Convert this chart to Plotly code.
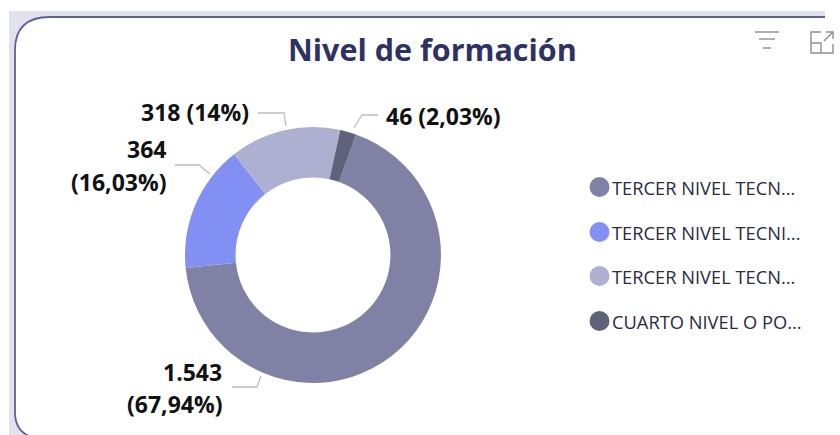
import plotly.graph_objects as go

W, H = 840, 435
title = "Nivel de formación"
categories = ["TERCER NIVEL TECNOLOGICO", "TERCER NIVEL TECNICO", "TERCER NIVEL TECNICO SUPERIOR", "CUARTO NIVEL O POSGRADO"]
legend_labels = ["TERCER NIVEL TECN...", "TERCER NIVEL TECNI...", "TERCER NIVEL TECN...", "CUARTO NIVEL O PO..."]
values = [1543, 364, 318, 46]
colors = ["#8082A5", "#8190F2", "#ADB0D0", "#5F6279"]

def px(x): return x / W
def py(y): return 1 - y / H

fig = go.Figure(go.Pie(
    labels=categories, values=values, hole=0.605, sort=False, direction="clockwise",
    rotation=19.6, textinfo="none", hoverinfo="label+value+percent",
    marker=dict(colors=colors, line=dict(width=0)),
    domain=dict(x=[px(185), px(441)], y=[py(383), py(127)]),
    showlegend=False,
))

shapes = [
    dict(type="rect", xref="paper", yref="paper", x0=px(9), x1=px(825), y0=py(435), y1=py(11),
         fillcolor="#E2E2EE", line=dict(width=0), layer="below"),
    dict(type="path", xref="paper", yref="paper", layer="below", fillcolor="#FFFFFF",
         line=dict(color="#5F6096", width=1.8),
         path=" ".join([
             f"M {px(32)} {py(437)}", f"Q {px(15)} {py(432)} {px(15)} {py(412)}", f"L {px(15)} {py(50)}",
             f"Q {px(15)} {py(17)} {px(50)} {py(17)}",
             f"L {px(822)} {py(17)}", f"L {px(860)} {py(17)}", f"L {px(860)} {py(450)}", f"L {px(32)} {py(450)}", "Z"])),
    dict(type="rect", xref="paper", yref="paper", x0=px(825), x1=px(840), y0=py(0), y1=py(22), fillcolor="#FFFFFF", line=dict(width=0), layer="below"),
    dict(type="rect", xref="paper", yref="paper", x0=px(742), x1=px(790), y0=py(18), y1=py(21), fillcolor="#FFFFFF", line=dict(width=0), layer="below"),
]

# leader lines
grey = "#BDBDBD"
for pts in [
    [(258, 113), (284, 113), (286, 126)],
    [(175, 165), (199, 165), (210, 174)],
    [(232, 387), (257, 387), (261, 376)],
    [(378, 115), (362, 115), (354, 128)],
]:
    path = f"M {px(pts[0][0])} {py(pts[0][1])} " + " ".join(f"L {px(a)} {py(b)}" for a, b in pts[1:])
    shapes.append(dict(type="path", xref="paper", yref="paper", path=path, line=dict(color=grey, width=1.3)))

# legend dots
for y, c in zip([187, 232, 276, 321], colors):
    shapes.append(dict(type="circle", xref="paper", yref="paper", x0=px(589.5), x1=px(609.5),
                       y0=py(y + 10), y1=py(y - 10), fillcolor=c, line=dict(width=0)))

# icons
icon = "#8E8E8E"
for x0, x1, y in [(755, 779, 32), (759, 775, 39), (763, 771, 48)]:
    shapes.append(dict(type="line", xref="paper", yref="paper", x0=px(x0), x1=px(x1), y0=py(y), y1=py(y), line=dict(color=icon, width=1.4)))
for pts in [[(821, 32), (811, 32), (811, 53), (833, 53), (833, 44)],
            [(811, 43), (821, 43), (821, 53)],
            [(824, 41), (833, 32)], [(826, 32), (833, 32), (833, 39)]]:
    path = f"M {px(pts[0][0])} {py(pts[0][1])} " + " ".join(f"L {px(a)} {py(b)}" for a, b in pts[1:])
    shapes.append(dict(type="path", xref="paper", yref="paper", path=path, line=dict(color=icon, width=1.4)))

ann = [dict(text=f"<b>{title}</b>", x=px(432.5), y=py(49), xref="paper", yref="paper", showarrow=False,
            xanchor="center", yanchor="middle", font=dict(family="Open Sans", size=30.5, color="#2F3163"))]
for text, x, y, anchor in [
    ("318 (14%)", 251, 112, "right"),
    ("364", 168, 149, "right"),
    ("(16,03%)", 168, 182, "right"),
    ("1.543", 224, 372, "right"),
    ("(67,94%)", 224, 404, "right"),
    ("46 (2,03%)", 384, 116, "left"),
]:
    ann.append(dict(text=f"<b>{text}</b>", x=px(x), y=py(y), xref="paper", yref="paper", showarrow=False,
                    xanchor=anchor, yanchor="middle", align=anchor,
                    font=dict(family="Open Sans", size=23, color="#111111")))
for y, t in zip([187, 232, 276, 321], legend_labels):
    ann.append(dict(text=t, x=px(610), y=py(y), xref="paper", yref="paper", showarrow=False,
                    xanchor="left", yanchor="middle", font=dict(family="Open Sans", size=18.3, color="#2B2B3F")))

fig.update_layout(width=W, height=H, margin=dict(l=0, r=0, t=0, b=0), paper_bgcolor="#FFFFFF",
                  shapes=shapes, annotations=ann)
fig.write_html("out.html", config=dict(displayModeBar=False),
               post_script="document.body.style.margin='0';document.body.style.overflow='hidden';")
